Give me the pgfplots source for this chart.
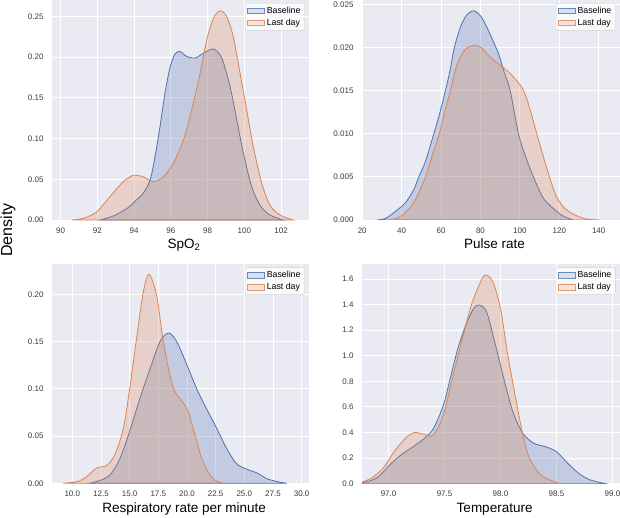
\documentclass[border=0pt]{standalone}
\usepackage{fontspec}
\setmainfont{Liberation Sans}
\usepackage{pgfplots}
\pgfplotsset{compat=1.18}

\definecolor{sbblue}{HTML}{4C72B0}
\definecolor{sborange}{HTML}{DD8452}
\definecolor{panelbg}{HTML}{EAEAF2}
\definecolor{ticktext}{HTML}{3A3A3A}

\pgfplotsset{
  kdepanel/.style={
    scale only axis,
    axis background/.style={fill=panelbg},
    axis line style={draw=none},
    major tick length=0pt,
    tick style={draw=none},
    grid=major,
    major grid style={white, line width=0.9pt},
    tick label style={font=\fontsize{8}{9.6}\selectfont, text=ticktext},
    yticklabel style={xshift=-5pt},
    xticklabel style={yshift=-4pt},
    /pgf/number format/assume math mode=true,
    ymin=0,
    xlabel style={at={(axis description cs:0.514,0)}, anchor=north,
      inner sep=0pt, yshift=-19pt, font=\fontsize{13.5}{16}\selectfont},
    legend style={at={(0.751,0.986)}, anchor=north west,
      fill=white, fill opacity=0.8, text opacity=1, draw=black!18,
      rounded corners=2pt, font=\fontsize{8.8}{10.5}\selectfont,
      inner xsep=2pt, inner ysep=1.5pt, row sep=0.3pt},
    legend image post style={sharp corners, line width=0.5pt, fill opacity=0.18, draw opacity=0.8},
    legend cell align=left,
    area legend,
  },
  base/.style={draw=sbblue, fill=sbblue, fill opacity=0.25, line width=0.8pt, smooth},
  last/.style={draw=sborange, fill=sborange, fill opacity=0.25, line width=0.8pt, smooth},
}

\begin{document}
\begin{tikzpicture}
\useasboundingbox (0,0) rectangle (620pt,517pt);

% SpO2
\begin{axis}[kdepanel,
  at={(52pt,297pt)}, anchor=south west, width=257pt, height=220pt,
  xmin=89.53, xmax=103.52, ymax=0.2703,
  xtick={90,92,...,102}, ytick={0,0.05,0.10,0.15,0.20,0.25},
  yticklabel style={/pgf/number format/.cd, fixed, fixed zerofill, precision=2},
  xlabel={SpO\textsubscript{2}}]
\addplot[base] coordinates {(92.14,0) (92.87,0.005) (93.6,0.014) (94.14,0.025) (94.5,0.033) (94.87,0.049) (95.14,0.078) (95.41,0.115) (95.68,0.156) (95.96,0.188) (96.23,0.204) (96.5,0.207) (96.86,0.201) (97.32,0.199) (97.77,0.205) (98.32,0.21) (98.77,0.199) (99.22,0.164) (99.59,0.123) (99.95,0.082) (100.4,0.041) (100.86,0.018) (101.4,0.006) (102.13,0)} \closedcycle;
\addplot[last] coordinates {(90.6,0) (91.23,0.002) (91.96,0.010) (92.69,0.029) (93.41,0.047) (93.96,0.055) (94.5,0.053) (95.05,0.047) (95.59,0.053) (96.14,0.07) (96.68,0.098) (97.13,0.135) (97.59,0.18) (97.95,0.221) (98.32,0.248) (98.68,0.257) (99.04,0.25) (99.4,0.225) (99.77,0.18) (100.13,0.135) (100.49,0.09) (100.95,0.045) (101.4,0.018) (101.95,0.006) (102.67,0)} \closedcycle;
\legend{Baseline, Last day}
\end{axis}

% Pulse rate
\begin{axis}[kdepanel,
  at={(362pt,297pt)}, anchor=south west, width=258pt, height=220pt,
  xmin=19.9, xmax=150.8, ymax=0.02555,
  xtick={20,40,...,140}, ytick={0,0.005,0.010,0.015,0.020,0.025},
  yticklabel style={/pgf/number format/.cd, fixed, fixed zerofill, precision=3},
  scaled y ticks=false,
  xlabel={Pulse rate}]
\addplot[base] coordinates {(27.5,0) (32,0.0002) (36.8,0.001) (41.9,0.002) (46.1,0.0035) (48.7,0.005) (52.1,0.0068) (56.3,0.010) (59.1,0.0122) (62.2,0.015) (64.7,0.0175) (66.7,0.020) (70,0.0225) (73,0.0238) (76.5,0.0243) (80,0.0237) (83,0.0225) (86,0.021) (89.2,0.0193) (92,0.0172) (95.1,0.015) (99.3,0.010) (103,0.0073) (106.9,0.005) (112,0.0025) (118.7,0.001) (122.5,0.0004) (127,0)} \closedcycle;
\addplot[last] coordinates {(34.3,0) (40,0.0005) (46.1,0.002) (52.1,0.005) (55.5,0.0075) (59.1,0.010) (62,0.0127) (64.7,0.015) (68,0.018) (72.3,0.0198) (77.4,0.0203) (81,0.0199) (85,0.0189) (91.6,0.0177) (96,0.0168) (101.8,0.0151) (105.2,0.0128) (108.6,0.010) (112,0.0073) (115.3,0.0048) (118.6,0.0027) (123,0.0013) (128.8,0.0005) (134,0.0001) (140.7,0)} \closedcycle;
\legend{Baseline, Last day}
\end{axis}

% Respiratory rate
\begin{axis}[kdepanel,
  at={(52pt,33.7pt)}, anchor=south west, width=257pt, height=219pt,
  xmin=8.23, xmax=30.64, ymax=0.2317,
  xtick={10,12.5,...,30}, ytick={0,0.05,0.10,0.15,0.20},
  xticklabel style={/pgf/number format/.cd, fixed, fixed zerofill, precision=1},
  yticklabel style={/pgf/number format/.cd, fixed, fixed zerofill, precision=2},
  xlabel={Respiratory rate per minute}]
\addplot[base] coordinates {(11.5,0) (12.4,0.003) (13.3,0.009) (14.15,0.026) (15.0,0.055) (15.9,0.09) (16.8,0.122) (17.65,0.15) (18.4,0.159) (19.1,0.15) (20.0,0.125) (20.85,0.10) (21.7,0.079) (22.6,0.058) (23.45,0.037) (24.3,0.021) (25.2,0.015) (26.1,0.011) (26.95,0.005) (27.8,0.002) (28.7,0)} \closedcycle;
\addplot[last] coordinates {(9.2,0) (10.5,0.002) (11.25,0.007) (12.1,0.016) (13.0,0.019) (13.7,0.03) (14.45,0.058) (15.0,0.10) (15.6,0.153) (16.2,0.203) (16.7,0.221) (17.35,0.199) (17.9,0.153) (18.5,0.115) (18.95,0.097) (19.5,0.088) (20.1,0.076) (20.7,0.051) (21.3,0.026) (22.0,0.009) (22.6,0.002) (23.2,0)} \closedcycle;
\legend{Baseline, Last day}
\end{axis}

% Temperature
\begin{axis}[kdepanel,
  at={(362pt,33.3pt)}, anchor=south west, width=258pt, height=219.4pt,
  xmin=96.763, xmax=99.067, ymax=1.715,
  xtick={97,97.5,...,99}, ytick={0,0.2,...,1.6},
  xticklabel style={/pgf/number format/.cd, fixed, fixed zerofill, precision=1},
  yticklabel style={/pgf/number format/.cd, fixed, fixed zerofill, precision=1},
  xlabel={Temperature}]
\addplot[base] coordinates {(96.68,0) (96.81,0.016) (96.91,0.055) (97.01,0.146) (97.11,0.224) (97.22,0.29) (97.32,0.354) (97.40,0.43) (97.49,0.615) (97.55,0.82) (97.62,1.06) (97.69,1.24) (97.76,1.37) (97.81,1.397) (97.875,1.345) (97.94,1.136) (98.03,0.82) (98.11,0.563) (98.2,0.393) (98.3,0.315) (98.4,0.29) (98.5,0.25) (98.6,0.16) (98.7,0.08) (98.8,0.03) (98.94,0)} \closedcycle;
\addplot[last] coordinates {(96.71,0) (96.84,0.04) (96.95,0.12) (97.05,0.25) (97.15,0.354) (97.23,0.40) (97.32,0.386) (97.40,0.38) (97.49,0.537) (97.57,0.823) (97.66,1.136) (97.74,1.397) (97.81,1.553) (97.86,1.631) (97.93,1.58) (98.0,1.37) (98.06,1.03) (98.13,0.693) (98.2,0.38) (98.26,0.198) (98.36,0.068) (98.5,0.01) (98.57,0)} \closedcycle;
\legend{Baseline, Last day}
\end{axis}

\node[rotate=90, font=\fontsize{16}{19}\selectfont] at (8pt,287pt) {Density};
\end{tikzpicture}
\end{document}
